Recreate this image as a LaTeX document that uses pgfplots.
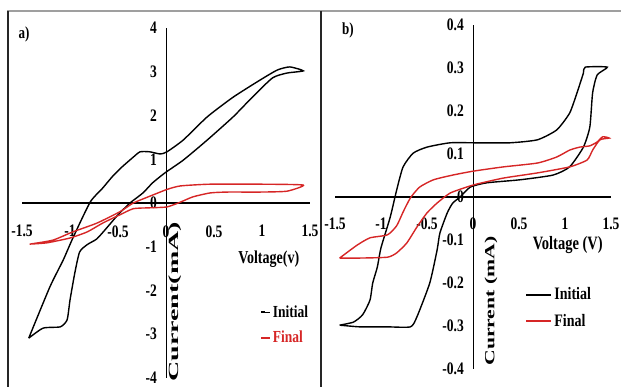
\documentclass[border=0pt]{standalone}
\usepackage{fontspec}
\setmainfont{Liberation Serif}
\usepackage{graphicx}
\usepackage{pgfplots}
\pgfplotsset{compat=1.18}
\definecolor{cvred}{RGB}{214,38,38}

\pgfplotsset{cvstyle/.style={
  scale only axis, clip=false,
  axis lines=middle,
  axis line style={-},
  x axis line style={line width=1.8pt},
  y axis line style={line width=0.9pt},
  major tick length=0pt,
  hide obscured x ticks=false, hide obscured y ticks=false,
  tick label style={font=\fontsize{13.5}{14}\selectfont\bfseries, inner sep=0pt, yscale=1.3},
  xticklabel style={anchor=north, yshift=-17pt},
  yticklabel style={anchor=east, xshift=-9pt},
  xmin=-1.5, xmax=1.5,
  xtick={-1.5,-1,-0.5,0,0.5,1,1.5},
  xticklabels={-1.5,-1,-0.5,0,0.5,1,1.5},
  legend cell align=left,
}}

\begin{document}
\begin{tikzpicture}[x=1pt,y=1pt]
\path[use as bounding box] (0,0) rectangle (621,387);
\draw[gray!75, line width=2.5pt] (7,376) -- (621,376);
\draw[black!85, line width=1.2pt] (8,376) -- (8,0);
\draw[black!85, line width=1.2pt] (321,376) -- (321,0);

% ---------- panel a ----------
\begin{axis}[cvstyle, at={(22pt,9pt)}, anchor=south west,
  width=288pt, height=350pt,
  ymin=-4, ymax=4,
  ytick={-4,-3,-2,-1,0,1,2,3,4},
  yticklabels={-4,-3,-2,-1,0,1,2,3,4},
  legend style={at={(axis cs:0.98,-2.28)}, anchor=north west, draw=none, fill=none,
    inner sep=0pt, row sep=7pt, font=\fontsize{13.5}{14}\selectfont\bfseries,
    nodes={yscale=1.25}},
  legend image code/.code={\draw[#1, line width=1.6pt] (0pt,0pt) -- (4pt,0pt); \path (0pt,0pt) -- (9pt,0pt);},
]
\addplot[black, line width=1.4pt, smooth, tension=0.35] coordinates {
(-1.43,-3.09) (-1.21,-1.92) (-1.07,-1.30) (-0.97,-0.80) (-0.79,0.02) (-0.66,0.34)
(-0.56,0.60) (-0.46,0.82) (-0.34,1.05) (-0.27,1.17) (-0.17,1.17) (-0.06,1.12)
(0.01,1.17) (0.18,1.44) (0.43,1.97) (0.70,2.42) (0.98,2.81) (1.16,3.04)
(1.29,3.11) (1.43,3.02) (1.26,2.97) (1.11,2.86) (0.90,2.42) (0.70,1.97)
(0.43,1.44) (0.18,0.98) (-0.01,0.69) (-0.14,0.46) (-0.24,0.23) (-0.375,0)
(-0.50,-0.27) (-0.61,-0.55) (-0.72,-0.82) (-0.82,-0.95) (-0.90,-1.12)
(-0.95,-1.60) (-1.00,-2.22) (-1.03,-2.67) (-1.10,-2.83) (-1.28,-2.86) (-1.43,-3.09)
};
\addlegendentry{Initial}
\addplot[cvred, line width=1.4pt, smooth, tension=0.35] coordinates {
(-1.42,-0.94) (-1.18,-0.85) (-0.97,-0.66) (-0.72,-0.46) (-0.48,-0.20) (-0.34,0.00)
(-0.14,0.18) (0.01,0.31) (0.15,0.39) (0.46,0.43) (0.98,0.43) (1.43,0.41)
(1.26,0.27) (0.98,0.25) (0.64,0.25) (0.46,0.23) (0.28,0.14) (0.15,0.02)
(0.01,-0.09) (-0.17,-0.11) (-0.34,-0.13) (-0.48,-0.27) (-0.66,-0.46)
(-0.82,-0.66) (-1.00,-0.80) (-1.24,-0.91) (-1.42,-0.94)
};
\addlegendentry{\textcolor{cvred}{Final}}
\node[anchor=center, font=\fontsize{14}{14}\selectfont\bfseries, yscale=1.3] at (axis cs:1.07,-1.28) {Voltage(v)};
\node[anchor=center, font=\fontsize{14}{14}\selectfont\bfseries, rotate=90, xscale=2.0, yscale=1.0] at (axis cs:0.094,-2.26) {Current(mA)};
\node[anchor=center, font=\fontsize{13}{13}\selectfont\bfseries, yscale=1.3] at (axis cs:-1.48,3.85) {a)};
\end{axis}

% ---------- panel b ----------
\begin{axis}[cvstyle, at={(335pt,18pt)}, anchor=south west,
  width=276pt, height=344pt,
  ymin=-0.4, ymax=0.4,
  ytick={-0.4,-0.3,-0.2,-0.1,0,0.1,0.2,0.3,0.4},
  yticklabels={-0.4,-0.3,-0.2,-0.1,0,0.1,0.2,0.3,0.4},
  xticklabel style={yshift=1pt},
  legend style={at={(axis cs:0.565,-0.205)}, anchor=north west, draw=none, fill=none,
    inner sep=0pt, row sep=7pt, font=\fontsize{14}{14}\selectfont\bfseries,
    nodes={yscale=1.25}},
  legend image code/.code={\draw[#1, line width=2.2pt] (0pt,0pt) -- (25pt,0pt);},
]
\addplot[black, line width=1.4pt, smooth, tension=0.35] coordinates {
(-1.45,-0.298) (-1.30,-0.291) (-1.20,-0.274) (-1.12,-0.240) (-1.09,-0.200)
(-1.04,-0.163) (-1.00,-0.118) (-0.90,-0.047) (-0.83,0.016) (-0.76,0.070)
(-0.65,0.102) (-0.50,0.116) (-0.25,0.126) (0.04,0.126) (0.40,0.126)
(0.70,0.133) (0.91,0.156) (1.05,0.195) (1.13,0.242) (1.20,0.288) (1.22,0.302)
(1.46,0.302) (1.35,0.284) (1.30,0.242) (1.27,0.163) (1.20,0.116) (1.05,0.070)
(0.87,0.051) (0.51,0.040) (0.15,0.033) (-0.03,0.023) (-0.14,0.000)
(-0.22,-0.014) (-0.28,-0.037) (-0.36,-0.084) (-0.39,-0.123) (-0.47,-0.200)
(-0.61,-0.279) (-0.68,-0.302) (-0.93,-0.302) (-1.23,-0.302) (-1.45,-0.298)
};
\addlegendentry{Initial}
\addplot[cvred, line width=1.4pt, smooth, tension=0.35] coordinates {
(-1.45,-0.142) (-1.26,-0.112) (-1.12,-0.095) (-0.93,-0.088) (-0.83,-0.067)
(-0.76,-0.035) (-0.68,-0.002) (-0.58,0.023) (-0.43,0.040) (-0.22,0.051)
(0.00,0.060) (0.33,0.070) (0.70,0.079) (0.91,0.093) (1.05,0.109) (1.16,0.116)
(1.27,0.119) (1.35,0.128) (1.41,0.140) (1.48,0.137) (1.38,0.133) (1.30,0.109)
(1.24,0.086) (1.05,0.070) (0.70,0.056) (0.33,0.044) (0.04,0.030) (-0.07,0.023)
(-0.25,0.009) (-0.39,-0.014) (-0.50,-0.037) (-0.61,-0.070) (-0.72,-0.107)
(-0.83,-0.130) (-0.93,-0.140) (-1.23,-0.142) (-1.45,-0.142)
};
\addlegendentry{Final}
\node[anchor=center, font=\fontsize{14.5}{15}\selectfont\bfseries, yscale=1.3] at (axis cs:1.03,-0.112) {Voltage (V)};
\node[anchor=center, font=\fontsize{14}{14}\selectfont\bfseries, rotate=90, xscale=1.55, yscale=1.0] at (axis cs:0.196,-0.242) {Current (mA)};
\node[anchor=center, font=\fontsize{13}{13}\selectfont\bfseries, yscale=1.3] at (axis cs:-1.36,0.388) {b)};
\end{axis}
\end{tikzpicture}
\end{document}
